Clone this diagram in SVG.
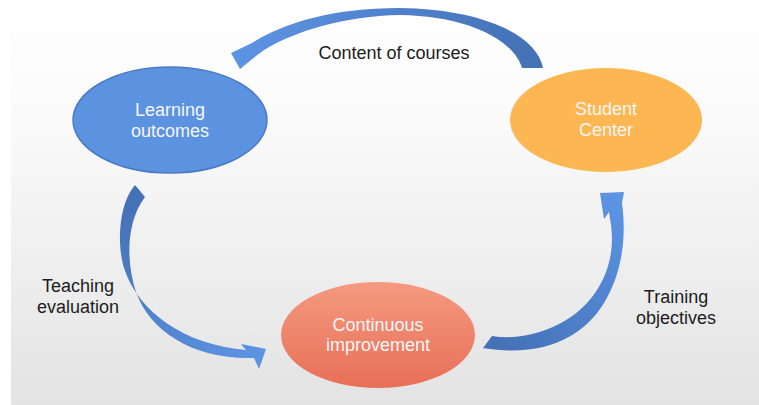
<svg xmlns="http://www.w3.org/2000/svg" width="759" height="405" viewBox="0 0 759 405">
<defs>
<linearGradient id="bg" x1="0" y1="0" x2="0" y2="1">
<stop offset="0" stop-color="#ffffff"/>
<stop offset="0.3" stop-color="#fafafa"/>
<stop offset="1" stop-color="#e3e3e3"/>
</linearGradient>
<linearGradient id="red" x1="0" y1="0" x2="0" y2="1">
<stop offset="0" stop-color="#f49a80"/>
<stop offset="1" stop-color="#e86f58"/>
</linearGradient>
<linearGradient id="aTop" gradientUnits="userSpaceOnUse" x1="545" y1="60" x2="235" y2="60">
<stop offset="0" stop-color="#4470b4"/>
<stop offset="1" stop-color="#5c94e4"/>
</linearGradient>
<linearGradient id="aLeft" gradientUnits="userSpaceOnUse" x1="135" y1="185" x2="265" y2="360">
<stop offset="0" stop-color="#4470b4"/>
<stop offset="1" stop-color="#5c94e4"/>
</linearGradient>
<linearGradient id="aRight" gradientUnits="userSpaceOnUse" x1="483" y1="345" x2="615" y2="195">
<stop offset="0" stop-color="#4470b4"/>
<stop offset="1" stop-color="#5c94e4"/>
</linearGradient>
</defs>
<style>
.node text{font-family:"Liberation Sans",Arial,sans-serif;font-size:18px;fill:#f6f6f6;text-anchor:middle}
.lbl{font-family:"Liberation Sans",Arial,sans-serif;font-size:18px;fill:#1c1c1c;text-anchor:middle}
</style>
<rect x="0" y="0" width="759" height="405" fill="#ffffff"/>
<rect x="11" y="0" width="748" height="405" fill="url(#bg)"/>
<g id="connectors">
<path id="arrow-top" fill="url(#aTop)" d="M543,68 C537,35 482,9 400,8 C330,8 282,24 252,43 L231,53 L240,69 L256,56 L264,50 C295,31 345,16 400,15 C468,16 514,40 522,68 Z"/>
<path id="arrow-left" fill="url(#aLeft)" d="M135,185 C118,205 117,245 124,268 C138,312 185,345 246,350 L241,344 L266,349 L259,369 L254,358 C195,360 150,332 136,292 C126,262 126,222 145,197 Z"/>
<path id="arrow-right" fill="url(#aRight)" d="M492,336 C522,341 562,330 587,303 C606,282 615,255 611,225 L609,212 L604,219 L600,193 L624,192 L622,203 C627,240 621,275 604,303 C584,336 545,358 483,348 Z"/>
</g>
<g id="node-learning" class="node">
<ellipse cx="170" cy="120" rx="97" ry="53" fill="#5b93e1" stroke="#4a7ac4" stroke-width="1.5"/>
<text x="170" y="116">Learning</text>
<text x="170" y="137">outcomes</text>
</g>
<g id="node-student" class="node">
<ellipse cx="606" cy="120" rx="96" ry="52" fill="#fdb752"/>
<text x="606" y="115">Student</text>
<text x="606" y="136">Center</text>
</g>
<g id="node-continuous" class="node">
<ellipse cx="378" cy="335" rx="97" ry="53" fill="url(#red)"/>
<text x="378" y="331">Continuous</text>
<text x="378" y="351">improvement</text>
</g>
<g id="labels">
<text class="lbl" x="394" y="59">Content of courses</text>
<text class="lbl" x="78" y="292">Teaching</text>
<text class="lbl" x="78" y="313">evaluation</text>
<text class="lbl" x="676" y="303">Training</text>
<text class="lbl" x="676" y="324">objectives</text>
</g>
</svg>
